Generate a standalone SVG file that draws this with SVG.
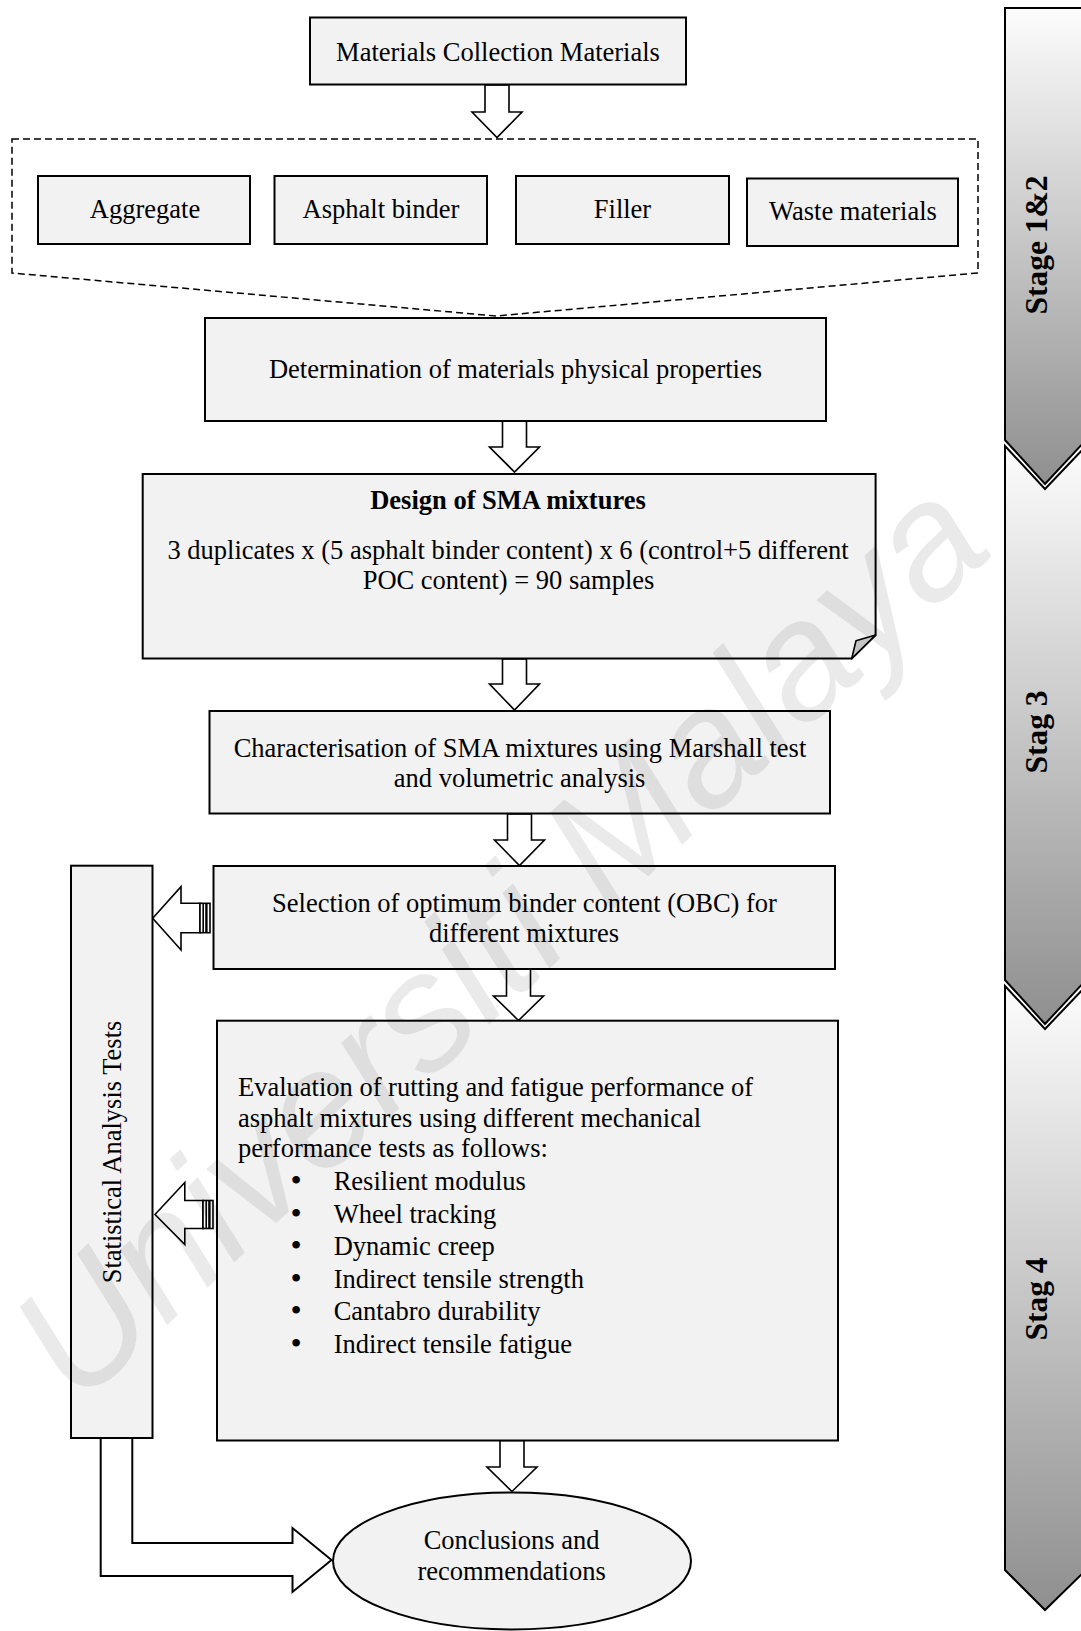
<svg xmlns="http://www.w3.org/2000/svg" width="1081" height="1631" viewBox="0 0 1081 1631">
<style>
.bx{fill:#f2f2f2;stroke:#000;stroke-width:2}
.ar{fill:#fff;stroke:#000;stroke-width:1.6;stroke-linejoin:miter}
.t{font-family:"Liberation Serif","Times New Roman",serif;font-size:26.5px;fill:#000}
.c{text-anchor:middle}
.b{font-weight:bold}
.bl{font-size:32px}
.stg{fill:url(#sg);stroke:#000;stroke-width:2}
.st{font-family:"Liberation Serif","Times New Roman",serif;font-size:31.5px;font-weight:bold;text-anchor:middle;fill:#000}
.wm{font-family:"Liberation Sans",Arial,sans-serif;font-style:italic;font-size:165px;fill:#000;opacity:0.08}
</style>
<defs>
<linearGradient id="sg" x1="0" y1="0" x2="0" y2="1">
<stop offset="0" stop-color="#fcfcfc"/>
<stop offset="1" stop-color="#8f8f8f"/>
</linearGradient>
</defs>
<rect width="1081" height="1631" fill="#fff"/>

<g id="stages">
<g id="stage12">
<path class="stg" d="M1005,8 H1086 V440 L1045,484 L1005,440 Z"/>
<text class="st" transform="translate(1047 245) rotate(-90)">Stage 1&amp;2</text>
</g>
<g id="stage3">
<path class="stg" d="M1005,446 L1045,489 L1086,446 V980 L1045,1024 L1005,980 Z"/>
<text class="st" transform="translate(1047 732) rotate(-90)">Stag 3</text>
</g>
<g id="stage4">
<path class="stg" d="M1005,986 L1045,1029 L1086,986 V1570 L1045,1610 L1005,1570 Z"/>
<text class="st" transform="translate(1047 1299) rotate(-90)">Stag 4</text>
</g>
</g>

<g id="connectors">
<path class="ar" d="M485,85 H509 V112 H522 L497,137.5 L472,112 H485 Z"/>
<polygon points="12,139 978,139 978,273 496,316 12,273" fill="none" stroke="#000" stroke-width="1.5" stroke-dasharray="7 4"/>
<path class="ar" d="M502.5,421 H526.5 V447 H539.5 L514.5,472 L489.5,447 H502.5 Z"/>
<path class="ar" d="M502.5,659 H526.5 V684 H539.5 L514.5,710 L489.5,684 H502.5 Z"/>
<path class="ar" d="M507.5,814 H531.5 V840 H544.5 L519.5,865.5 L494.5,840 H507.5 Z"/>
<path class="ar" d="M506.5,969 H530.5 V996 H543.5 L518.5,1020.5 L493.5,996 H506.5 Z"/>
<path class="ar" d="M500,1440.5 H524 V1467 H537 L512,1491.5 L487,1467 H500 Z"/>
<g id="arrowA">
<path class="ar" d="M152.7,918.3 L181,886.7 V903.3 H200 V932.7 H181 V950 Z"/>
<rect x="200" y="903.3" width="10" height="29.4" fill="#fff" stroke="#000" stroke-width="1.6"/>
<rect x="202.4" y="903.3" width="1.6" height="29.4" fill="#000"/>
<rect x="205.2" y="903.3" width="2.4" height="29.4" fill="#000"/>
</g>
<g id="arrowB">
<path class="ar" d="M155,1214.5 L184.8,1182.5 V1200.5 H203 V1228.5 H184.8 V1244.5 Z"/>
<rect x="203" y="1200.5" width="10" height="28" fill="#fff" stroke="#000" stroke-width="1.6"/>
<rect x="205.4" y="1200.5" width="1.6" height="28" fill="#000"/>
<rect x="208.2" y="1200.5" width="2.4" height="28" fill="#000"/>
</g>
<path fill="none" stroke="#000" stroke-width="2" d="M132.3,1438 V1543 H292.5 V1528 L331.5,1560 L292.5,1592 V1576 H100.7 V1438"/>
</g>

<g id="n-collection">
<rect class="bx" x="310" y="17.5" width="376" height="67"/>
<text class="t c" x="498" y="61">Materials Collection Materials</text>
</g>
<g id="n-aggregate">
<rect class="bx" x="38" y="176" width="212" height="68"/>
<text class="t c" x="145" y="218">Aggregate</text>
</g>
<g id="n-binder">
<rect class="bx" x="274.5" y="176" width="212.5" height="68"/>
<text class="t c" x="381" y="218">Asphalt binder</text>
</g>
<g id="n-filler">
<rect class="bx" x="516" y="176" width="213" height="68"/>
<text class="t c" x="622.5" y="218">Filler</text>
</g>
<g id="n-waste">
<rect class="bx" x="747" y="178.5" width="211" height="67.5"/>
<text class="t c" x="853" y="220">Waste materials</text>
</g>
<g id="n-determination">
<rect class="bx" x="205" y="318" width="621" height="103"/>
<text class="t c" x="515.5" y="378">Determination of materials physical properties</text>
</g>
<g id="n-design">
<path class="bx" d="M142.7,474 H875.6 V635 L851.7,658.6 H142.7 Z"/>
<path d="M875.6,635 L856,640.7 L851.7,658.6 Z" fill="#c4c4c4" stroke="#000" stroke-width="1.6" stroke-linejoin="round"/>
<text class="t c b" x="508" y="509">Design of SMA mixtures</text>
<text class="t c" x="508" y="558.5">3 duplicates x (5 asphalt binder content) x 6 (control+5 different</text>
<text class="t c" x="508.5" y="588.5">POC content) = 90 samples</text>
</g>
<g id="n-characterisation">
<rect class="bx" x="209.5" y="711" width="620.5" height="102.5"/>
<text class="t c" x="520" y="756.5">Characterisation of SMA mixtures using Marshall test</text>
<text class="t c" x="519.6" y="786.5">and volumetric analysis</text>
</g>
<g id="n-selection">
<rect class="bx" x="213.5" y="866" width="621.5" height="103"/>
<text class="t c" x="524.5" y="912">Selection of optimum binder content (OBC) for</text>
<text class="t c" x="524" y="942">different mixtures</text>
</g>
<g id="n-evaluation">
<rect class="bx" x="217" y="1020.7" width="621" height="419.8"/>
<text class="t" x="238" y="1096">Evaluation of rutting and fatigue performance of</text>
<text class="t" x="238" y="1126.5">asphalt mixtures using different mechanical</text>
<text class="t" x="238" y="1157">performance tests as follows:</text>
<text class="t c bl" x="296" y="1191">•</text>
<text class="t" x="333.7" y="1190">Resilient modulus</text>
<text class="t c bl" x="296" y="1223.5">•</text>
<text class="t" x="333.7" y="1222.5">Wheel tracking</text>
<text class="t c bl" x="296" y="1256">•</text>
<text class="t" x="333.7" y="1255">Dynamic creep</text>
<text class="t c bl" x="296" y="1288.5">•</text>
<text class="t" x="333.7" y="1287.5">Indirect tensile strength</text>
<text class="t c bl" x="296" y="1321">•</text>
<text class="t" x="333.7" y="1320">Cantabro durability</text>
<text class="t c bl" x="296" y="1353.5">•</text>
<text class="t" x="333.7" y="1352.5">Indirect tensile fatigue</text>
</g>
<g id="n-statistical">
<rect class="bx" x="71" y="865.7" width="81.5" height="572.3"/>
<text class="t c" transform="translate(120.5 1152) rotate(-90)">Statistical Analysis Tests</text>
</g>
<g id="n-conclusions">
<ellipse class="bx" cx="512" cy="1561" rx="179" ry="68.5"/>
<text class="t c" x="511.6" y="1549">Conclusions and</text>
<text class="t c" x="511.6" y="1579.5">recommendations</text>
</g>

<text class="wm" transform="translate(78 1408) rotate(-43)">Universiti Malaya</text>
</svg>
